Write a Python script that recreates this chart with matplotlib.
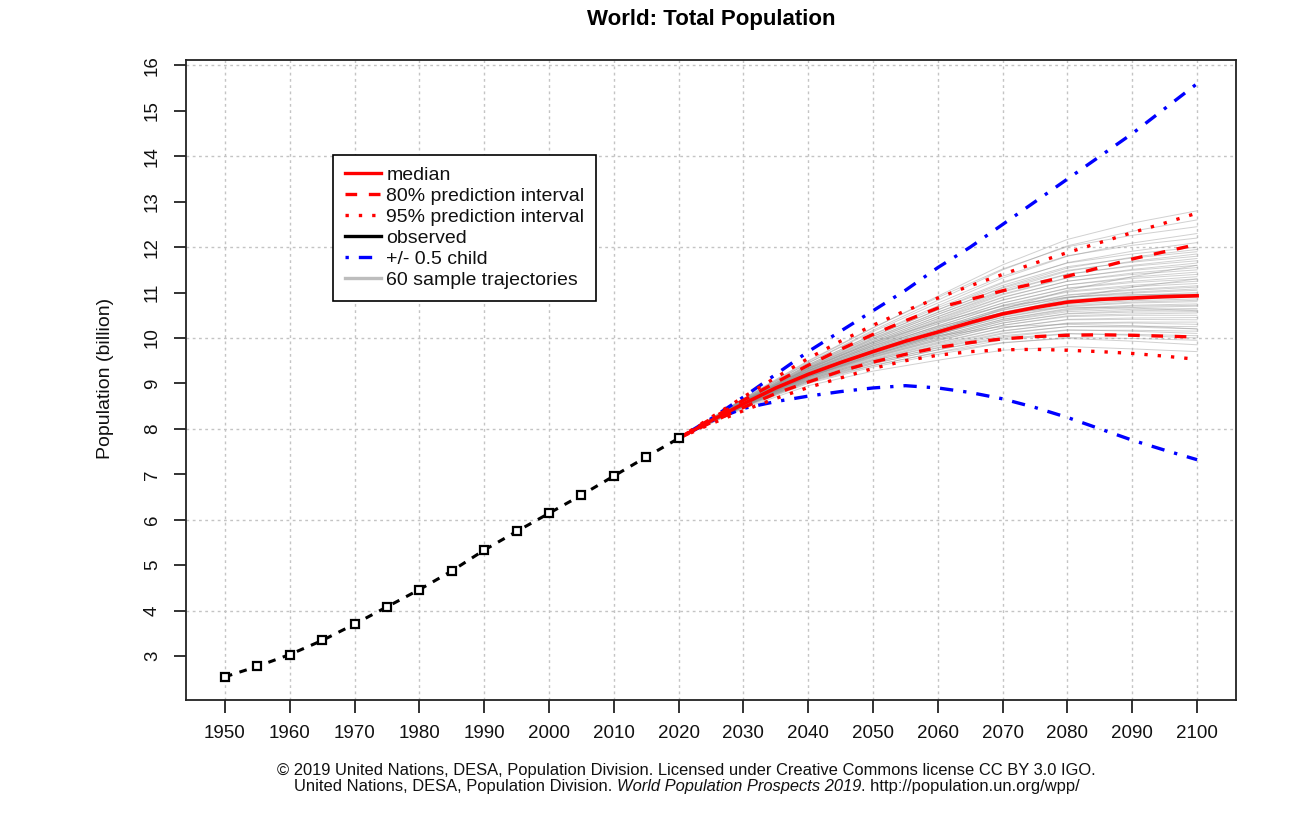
import matplotlib
matplotlib.use('Agg')
import matplotlib.pyplot as plt
from matplotlib.lines import Line2D

plt.rcParams['font.family'] = ['Liberation Sans', 'DejaVu Sans']

# ---------------- data ----------------
obs_years = [1950, 1955, 1960, 1965, 1970, 1975, 1980, 1985, 1990, 1995, 2000, 2005, 2010, 2015, 2020]
obs_pop = [2.54, 2.77, 3.03, 3.34, 3.70, 4.08, 4.46, 4.87, 5.33, 5.74, 6.14, 6.54, 6.96, 7.38, 7.79]

proj_years = [2020, 2025, 2030, 2035, 2040, 2045, 2050, 2055, 2060, 2065, 2070, 2075, 2080, 2085, 2090, 2095, 2100]
median = [7.79, 8.18, 8.55, 8.90, 9.20, 9.46, 9.70, 9.93, 10.13, 10.34, 10.53, 10.67, 10.79, 10.85, 10.88, 10.91, 10.93]
pi80_high = [7.79, 8.22, 8.63, 9.02, 9.40, 9.75, 10.08, 10.38, 10.66, 10.85, 11.04, 11.20, 11.36, 11.55, 11.74, 11.90, 12.06]
pi80_low = [7.79, 8.14, 8.47, 8.78, 9.03, 9.27, 9.47, 9.64, 9.79, 9.90, 9.98, 10.03, 10.06, 10.07, 10.06, 10.04, 10.02]
pi95_high = [7.79, 8.25, 8.70, 9.13, 9.55, 9.93, 10.28, 10.60, 10.88, 11.15, 11.40, 11.65, 11.88, 12.10, 12.32, 12.53, 12.75]
pi95_low = [7.79, 8.11, 8.40, 8.67, 8.91, 9.12, 9.33, 9.50, 9.62, 9.70, 9.74, 9.75, 9.73, 9.70, 9.66, 9.60, 9.53]
child_high = [7.79, 8.22, 8.70, 9.20, 9.70, 10.15, 10.60, 11.05, 11.55, 12.00, 12.50, 13.00, 13.50, 14.00, 14.50, 15.05, 15.60]
child_low = [7.79, 8.17, 8.45, 8.60, 8.72, 8.82, 8.90, 8.95, 8.90, 8.80, 8.66, 8.47, 8.25, 8.00, 7.75, 7.53, 7.32]

traj_years = [2020, 2030, 2040, 2050, 2060, 2070, 2080, 2090, 2100]
trajectories = [
    [7.79, 8.45, 8.95, 9.27, 9.51, 9.73, 9.81, 9.76, 9.70],
    [7.79, 8.49, 9.04, 9.40, 9.68, 9.90, 9.99, 9.93, 9.85],
    [7.79, 8.47, 9.00, 9.36, 9.64, 9.89, 10.01, 9.99, 9.95],
    [7.79, 8.49, 9.06, 9.44, 9.74, 9.99, 10.10, 10.06, 10.00],
    [7.79, 8.48, 9.02, 9.39, 9.69, 9.96, 10.09, 10.08, 10.05],
    [7.79, 8.50, 9.08, 9.47, 9.78, 10.05, 10.18, 10.15, 10.10],
    [7.79, 8.49, 9.04, 9.43, 9.74, 10.02, 10.17, 10.17, 10.15],
    [7.79, 8.51, 9.09, 9.50, 9.82, 10.11, 10.25, 10.24, 10.20],
    [7.79, 8.50, 9.06, 9.46, 9.79, 10.09, 10.25, 10.26, 10.25],
    [7.79, 8.51, 9.11, 9.52, 9.87, 10.16, 10.32, 10.33, 10.30],
    [7.79, 8.50, 9.08, 9.50, 9.84, 10.15, 10.33, 10.35, 10.35],
    [7.79, 8.52, 9.12, 9.55, 9.91, 10.22, 10.40, 10.41, 10.40],
    [7.79, 8.51, 9.10, 9.53, 9.89, 10.22, 10.41, 10.44, 10.45],
    [7.79, 8.52, 9.14, 9.58, 9.95, 10.28, 10.47, 10.50, 10.50],
    [7.79, 8.52, 9.12, 9.57, 9.94, 10.28, 10.49, 10.53, 10.55],
    [7.79, 8.53, 9.15, 9.60, 9.98, 10.33, 10.53, 10.57, 10.58],
    [7.79, 8.53, 9.14, 9.59, 9.97, 10.33, 10.54, 10.60, 10.62],
    [7.79, 8.53, 9.16, 9.62, 10.01, 10.37, 10.58, 10.63, 10.65],
    [7.79, 8.53, 9.15, 9.62, 10.01, 10.38, 10.61, 10.67, 10.70],
    [7.79, 8.54, 9.17, 9.64, 10.04, 10.41, 10.63, 10.70, 10.72],
    [7.79, 8.54, 9.16, 9.64, 10.04, 10.41, 10.65, 10.72, 10.75],
    [7.79, 8.54, 9.18, 9.66, 10.08, 10.45, 10.69, 10.77, 10.80],
    [7.79, 8.54, 9.18, 9.66, 10.08, 10.46, 10.71, 10.79, 10.83],
    [7.79, 8.55, 9.19, 9.68, 10.10, 10.49, 10.74, 10.82, 10.86],
    [7.79, 8.55, 9.19, 9.69, 10.12, 10.51, 10.77, 10.85, 10.90],
    [7.79, 8.56, 9.22, 9.73, 10.16, 10.55, 10.80, 10.88, 10.92],
    [7.79, 8.55, 9.21, 9.71, 10.15, 10.56, 10.82, 10.92, 10.97],
    [7.79, 8.55, 9.21, 9.72, 10.16, 10.57, 10.84, 10.94, 11.00],
    [7.79, 8.56, 9.22, 9.74, 10.19, 10.61, 10.89, 10.99, 11.05],
    [7.79, 8.56, 9.22, 9.74, 10.19, 10.62, 10.90, 11.01, 11.08],
    [7.79, 8.57, 9.24, 9.77, 10.23, 10.65, 10.94, 11.05, 11.12],
    [7.79, 8.56, 9.23, 9.76, 10.22, 10.66, 10.95, 11.07, 11.15],
    [7.79, 8.57, 9.25, 9.79, 10.27, 10.71, 11.01, 11.13, 11.20],
    [7.79, 8.57, 9.25, 9.79, 10.26, 10.72, 11.03, 11.16, 11.25],
    [7.79, 8.58, 9.27, 9.83, 10.32, 10.77, 11.09, 11.22, 11.30],
    [7.79, 8.58, 9.26, 9.82, 10.31, 10.77, 11.10, 11.25, 11.35],
    [7.79, 8.59, 9.29, 9.86, 10.37, 10.84, 11.17, 11.31, 11.40],
    [7.79, 8.58, 9.28, 9.85, 10.35, 10.83, 11.17, 11.34, 11.45],
    [7.79, 8.60, 9.31, 9.90, 10.42, 10.90, 11.25, 11.40, 11.50],
    [7.79, 8.59, 9.29, 9.87, 10.39, 10.89, 11.25, 11.43, 11.55],
    [7.79, 8.60, 9.33, 9.93, 10.47, 10.97, 11.33, 11.49, 11.60],
    [7.79, 8.59, 9.31, 9.90, 10.43, 10.95, 11.32, 11.51, 11.65],
    [7.79, 8.61, 9.35, 9.97, 10.52, 11.03, 11.41, 11.58, 11.70],
    [7.79, 8.60, 9.32, 9.93, 10.47, 11.01, 11.40, 11.60, 11.75],
    [7.79, 8.62, 9.37, 10.00, 10.57, 11.10, 11.49, 11.67, 11.80],
    [7.79, 8.61, 9.34, 9.96, 10.52, 11.06, 11.47, 11.69, 11.85],
    [7.79, 8.63, 9.39, 10.04, 10.62, 11.16, 11.57, 11.76, 11.90],
    [7.79, 8.61, 9.35, 9.99, 10.56, 11.12, 11.54, 11.78, 11.95],
    [7.79, 8.64, 9.41, 10.07, 10.67, 11.23, 11.65, 11.85, 12.00],
    [7.79, 8.62, 9.38, 10.03, 10.62, 11.21, 11.66, 11.91, 12.10],
    [7.79, 8.65, 9.45, 10.14, 10.77, 11.36, 11.81, 12.04, 12.20],
    [7.79, 8.63, 9.41, 10.08, 10.71, 11.32, 11.80, 12.09, 12.30],
    [7.79, 8.67, 9.50, 10.23, 10.89, 11.52, 12.01, 12.26, 12.45],
    [7.79, 8.65, 9.45, 10.17, 10.83, 11.50, 12.03, 12.35, 12.60],
    [7.79, 8.66, 9.48, 10.22, 10.92, 11.61, 12.17, 12.53, 12.80],
    [7.79, 8.60, 9.33, 9.90, 10.35, 10.70, 10.90, 10.96, 10.95],
    [7.79, 8.58, 9.28, 9.82, 10.25, 10.55, 10.68, 10.66, 10.60],
    [7.79, 8.52, 9.14, 9.62, 10.07, 10.52, 10.88, 11.12, 11.30],
    [7.79, 8.56, 9.22, 9.70, 10.05, 10.25, 10.30, 10.27, 10.20],
    [7.79, 8.53, 9.17, 9.68, 10.16, 10.64, 11.05, 11.35, 11.60],
]

x_ticks = list(range(1950, 2101, 10))
y_ticks = list(range(3, 17))
y_grid = list(range(4, 17, 2))

legend_labels = ["median", "80% prediction interval", "95% prediction interval",
                 "observed", "+/- 0.5 child", "60 sample trajectories"]

title = "World: Total Population"
ylabel = "Population (billion)"
footer1 = "\u00a9 2019 United Nations, DESA, Population Division. Licensed under Creative Commons license CC BY 3.0 IGO."
footer2_parts = [("United Nations, DESA, Population Division. ", "normal"),
                 ("World Population Prospects 2019", "italic"),
                 (". http://population.un.org/wpp/", "normal")]

# ---------------- figure ----------------
W, H = 1309, 832
fig = plt.figure(figsize=(W / 100, H / 100), dpi=100)
ax = fig.add_axes([186 / W, 1 - 700 / H, (1236 - 186) / W, (700 - 60) / H])

ax.set_xlim(1944, 2106)
ax.set_ylim(2.03, 16.12)

grid_kw = dict(color='#c4c4c4', lw=1.0, ls=(0, (2, 2.5)), zorder=0)
for gx in x_ticks:
    ax.axvline(gx, **grid_kw)
for gy in y_grid:
    ax.axhline(gy, **grid_kw)

red = '#ff0000'
blue = '#0000ff'
gray_c = '#8c8c8c'

for tr in trajectories:
    ax.plot(traj_years, tr, color=gray_c, lw=0.7, alpha=0.4, zorder=2)

ax.plot(proj_years, child_high, color=blue, lw=2.4, ls=(0, (1, 3, 4, 3)), zorder=3)
ax.plot(proj_years, child_low, color=blue, lw=2.4, ls=(0, (1, 3, 4, 3)), zorder=3)

ax.plot(proj_years, pi95_high, color=red, lw=2.4, ls=(0, (1, 3)), zorder=4)
ax.plot(proj_years, pi95_low, color=red, lw=2.4, ls=(0, (1, 3)), zorder=4)
ax.plot(proj_years, pi80_high, color=red, lw=2.4, ls=(0, (3.5, 3.5)), zorder=4)
ax.plot(proj_years, pi80_low, color=red, lw=2.4, ls=(0, (3.5, 3.5)), zorder=4)
ax.plot(proj_years, median, color=red, lw=2.6, zorder=5)

ax.plot(obs_years, obs_pop, color='black', lw=2.2, ls=(0, (2.5, 2.5)),
        marker='s', ms=5.5, mfc='white', mec='black', mew=1.6, zorder=6)

ax.set_xticks(x_ticks)
ax.set_xticklabels([str(v) for v in x_ticks])
ax.set_yticks(y_ticks)
ax.set_yticklabels([str(v) for v in y_ticks], rotation=90, va='center')
ax.tick_params(axis='both', direction='out', length=9, width=1.3, labelsize=13.5,
               colors='#222222', labelcolor='#111111')
ax.tick_params(axis='x', pad=9)
ax.tick_params(axis='y', pad=9)
for s in ax.spines.values():
    s.set_linewidth(1.3)
    s.set_color('#222222')

handles = [
    Line2D([], [], color=red, lw=2.4),
    Line2D([], [], color=red, lw=2.4, ls=(0, (3.5, 3.5))),
    Line2D([], [], color=red, lw=2.4, ls=(0, (1, 3))),
    Line2D([], [], color='black', lw=2.4),
    Line2D([], [], color=blue, lw=2.4, ls=(0, (1, 3, 4, 3))),
    Line2D([], [], color='#bdbdbd', lw=2.4),
]
leg = ax.legend(handles, legend_labels, loc='upper left',
                bbox_to_anchor=((333 - 186) / 1050, (700 - 155) / 640),
                prop={'size': 14}, frameon=True, fancybox=False, framealpha=1,
                edgecolor='black', handlelength=1.85, handletextpad=0.3,
                labelspacing=0.17, borderpad=0.6, borderaxespad=0)
leg.get_frame().set_linewidth(1.2)
leg.set_zorder(10)
for t in leg.get_texts():
    t.set_color('#111111')

fig.text(711 / W, 1 - 20 / H, title, ha='center', va='center',
         fontsize=16, fontweight='bold')
fig.text(105 / W, 1 - 378 / H, ylabel, ha='center', va='center',
         rotation=90, fontsize=14, color='#111111')
fig.text(686 / W, 1 - 770 / H, footer1, ha='center', va='center', fontsize=11.9,
         color='#111111')

# second footer line with an italic part
fig.canvas.draw()
renderer = fig.canvas.get_renderer()
pieces = []
total = 0
for txt, style in footer2_parts:
    t = fig.text(0, 1 - 787 / H, txt, ha='left', va='center', fontsize=11.9,
                 style=style, color='#111111')
    w = t.get_window_extent(renderer).width
    pieces.append((t, w))
    total += w
x0 = 687 - total / 2
for t, w in pieces:
    t.set_x(x0 / W)
    x0 += w

fig.savefig('out.png', dpi=100)
